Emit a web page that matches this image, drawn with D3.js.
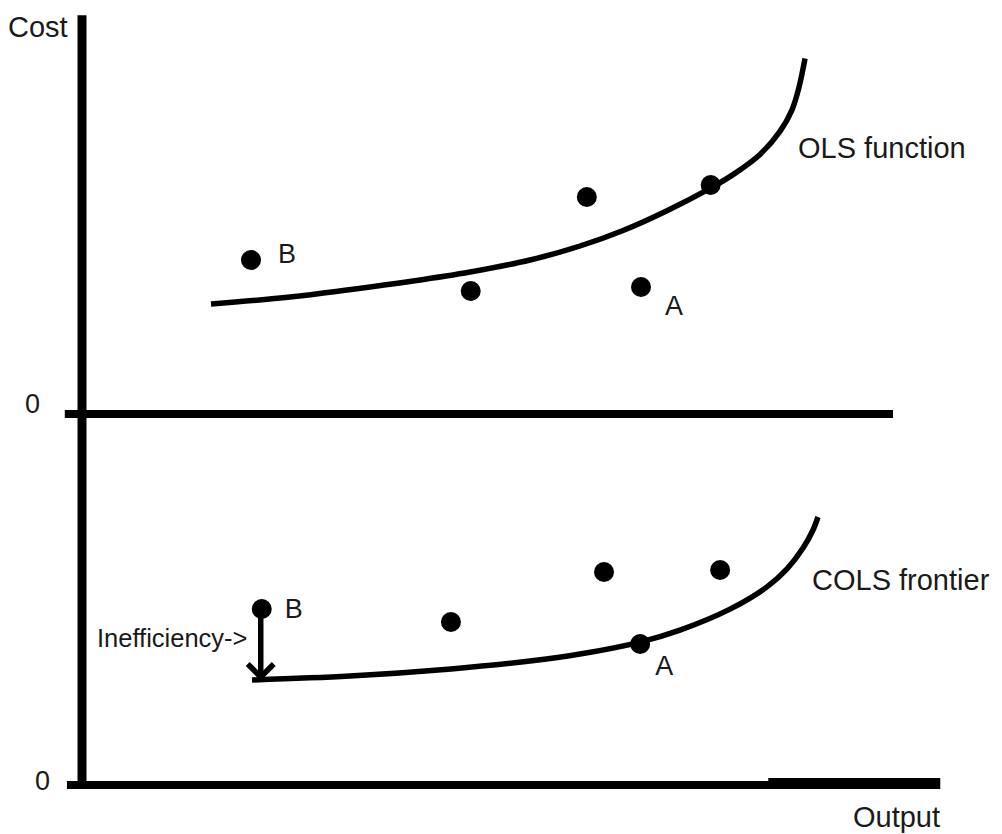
<!DOCTYPE html>
<html>
<head>
<meta charset="utf-8">
<script src="https://cdn.jsdelivr.net/npm/d3@7"></script>
<style>
  html, body { margin: 0; padding: 0; background: #fff; }
  svg { display: block; }
  text { font-family: "Liberation Sans", Arial, sans-serif; fill: #1a1a1a; }
</style>
</head>
<body>
<svg id="chart" width="1002" height="834"></svg>
<script>
// ---- data (output, cost) ----
const olsCurveX = [15.0, 24.19, 30.81, 38.49, 45.12, 52.09, 57.91, 62.91, 68.02, 73.14, 75.70, 78.84, 81.16, 82.56, 83.37, 84.07];
const olsCurveY = [27.5, 29.25, 31.0, 33.25, 35.5, 38.5, 42.0, 45.88, 50.83, 56.55, 59.85, 64.9, 70.65, 76.05, 81.65, 88.85];

const topFirms = ["B", "", "", "A", ""];
const topFirmX = [19.65, 45.2, 58.7, 65.0, 73.1];
const topFirmY = [38.5, 30.75, 54.25, 31.75, 57.25];

const colsCurveX = [19.77, 31.16, 42.91, 52.09, 57.91, 64.88, 69.53, 75.35, 79.65, 81.98, 83.84, 85.0, 85.58];
const colsCurveY = [25.75, 26.73, 28.5, 30.48, 32.23, 35.23, 38.23, 43.48, 49.03, 53.53, 58.73, 63.25, 66.5];

const botFirms = ["B", "", "", "", "A"];
const botFirmX = [20.9, 42.9, 60.7, 74.2, 64.9];
const botFirmY = [43.5, 40.25, 52.75, 53.25, 34.75];

const inefficiencyFrom = 43.5;   // cost of firm B
const inefficiencyTo = 26.25;    // frontier cost at B's output

const axisLabels = { y: "Cost", x: "Output", zero: "0" };
const curveLabels = ["OLS function", "COLS frontier"];
const inefficiencyLabel = "Inefficiency->";

// ---- scales ----
const svg = d3.select("#chart");
const x = d3.scaleLinear().domain([0, 100]).range([82, 942]);
const yTop = d3.scaleLinear().domain([0, 100]).range([414, 14]);
const yBot = d3.scaleLinear().domain([0, 100]).range([783, 383]);

const ink = "#000";

// ---- axes ----
// vertical cost axis
svg.append("line")
  .attr("x1", x(0)).attr("x2", x(0))
  .attr("y1", yTop(99.7)).attr("y2", yBot(-1.5))
  .attr("stroke", ink).attr("stroke-width", 9);
// top zero line
svg.append("line")
  .attr("x1", x(-2)).attr("x2", x(94.3))
  .attr("y1", yTop(0)).attr("y2", yTop(0))
  .attr("stroke", ink).attr("stroke-width", 8);
// bottom output axis
svg.append("line")
  .attr("x1", x(-1.75)).attr("x2", x(80))
  .attr("y1", yBot(-0.5)).attr("y2", yBot(-0.5))
  .attr("stroke", ink).attr("stroke-width", 8);
svg.append("line")
  .attr("x1", x(79.8)).attr("x2", x(99.8))
  .attr("y1", yBot(-0.125)).attr("y2", yBot(-0.125))
  .attr("stroke", ink).attr("stroke-width", 11);

// ---- curves ----
const olsPts = olsCurveX.map((v, i) => [v, olsCurveY[i]]);
const colsPts = colsCurveX.map((v, i) => [v, colsCurveY[i]]);

svg.append("path")
  .datum(olsPts)
  .attr("fill", "none").attr("stroke", ink).attr("stroke-width", 5.5)
  .attr("d", d3.line().x(d => x(d[0])).y(d => yTop(d[1])).curve(d3.curveCatmullRom));

svg.append("path")
  .datum(colsPts)
  .attr("fill", "none").attr("stroke", ink).attr("stroke-width", 5.5)
  .attr("d", d3.line().x(d => x(d[0])).y(d => yBot(d[1])).curve(d3.curveCatmullRom));

// ---- points ----
const topData = topFirmX.map((v, i) => ({ x: v, y: topFirmY[i], name: topFirms[i] }));
const botData = botFirmX.map((v, i) => ({ x: v, y: botFirmY[i], name: botFirms[i] }));

svg.selectAll("circle.top").data(topData).enter().append("circle")
  .attr("class", "top")
  .attr("cx", d => x(d.x)).attr("cy", d => yTop(d.y)).attr("r", 10).attr("fill", ink);

svg.selectAll("circle.bot").data(botData).enter().append("circle")
  .attr("class", "bot")
  .attr("cx", d => x(d.x)).attr("cy", d => yBot(d.y)).attr("r", 10).attr("fill", ink);

// ---- inefficiency arrow ----
const bB = botData[0];
const ax = x(bB.x) - 1;
svg.append("line")
  .attr("x1", ax).attr("x2", ax)
  .attr("y1", yBot(inefficiencyFrom)).attr("y2", yBot(inefficiencyTo) - 2)
  .attr("stroke", ink).attr("stroke-width", 5.5);
svg.append("path")
  .attr("d", `M${ax - 13},${yBot(inefficiencyTo) - 14} L${ax},${yBot(inefficiencyTo) - 1} L${ax + 13},${yBot(inefficiencyTo) - 14}`)
  .attr("fill", "none").attr("stroke", ink).attr("stroke-width", 5.5)
  .attr("stroke-linejoin", "miter");

// ---- labels ----
const big = 29;
svg.append("text").attr("x", 8).attr("y", 37).attr("font-size", big).text(axisLabels.y);
svg.append("text").attr("x", 853).attr("y", 827).attr("font-size", big).text(axisLabels.x);
svg.append("text").attr("x", 25).attr("y", yTop(0) - 1).attr("font-size", 27).text(axisLabels.zero);
svg.append("text").attr("x", 35).attr("y", yBot(0) + 7).attr("font-size", 27).text(axisLabels.zero);

svg.append("text").attr("x", 798).attr("y", 158).attr("font-size", big).text(curveLabels[0]);
svg.append("text").attr("x", 812).attr("y", 590).attr("font-size", big).text(curveLabels[1]);

// point labels
const tB = topData[0], tA = topData[3], bA = botData[4];
svg.append("text").attr("x", x(tB.x) + 27).attr("y", yTop(tB.y) + 3).attr("font-size", 27).text(tB.name);
svg.append("text").attr("x", x(tA.x) + 24).attr("y", yTop(tA.y) + 28).attr("font-size", 27).text(tA.name);
svg.append("text").attr("x", x(bB.x) + 23).attr("y", yBot(bB.y) + 9).attr("font-size", 27).text(bB.name);
svg.append("text").attr("x", x(bA.x) + 15).attr("y", yBot(bA.y) + 31).attr("font-size", 27).text(bA.name);

svg.append("text").attr("x", 97).attr("y", 647).attr("font-size", 25.5).text(inefficiencyLabel);
</script>
</body>
</html>
